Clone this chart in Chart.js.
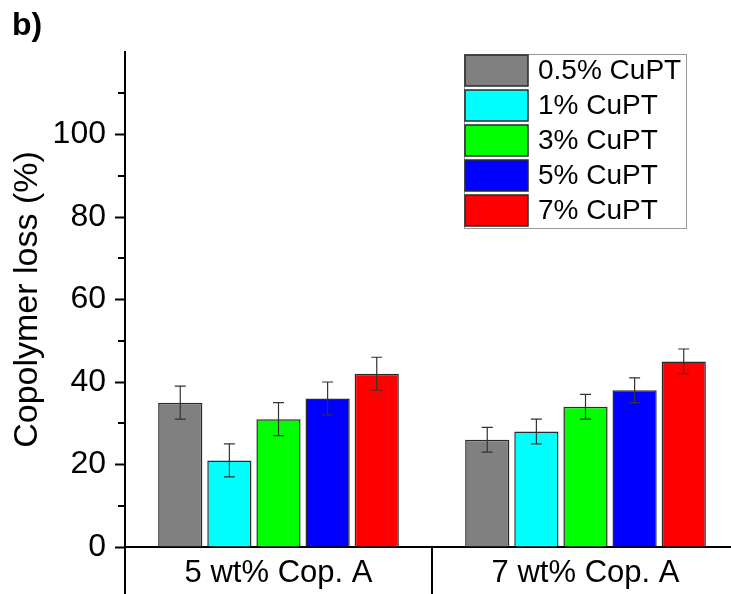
<!DOCTYPE html>
<html>
<head>
<meta charset="utf-8">
<script src="https://cdn.jsdelivr.net/npm/chart.js@4"></script>
<style>
  html, body { margin: 0; padding: 0; background: #fff; overflow: hidden; }
  #wrap { width: 731px; height: 594px; overflow: hidden; position: relative; }
  canvas { display: block; }
</style>
</head>
<body>
<div id="wrap"><canvas id="c" width="740" height="594"></canvas></div>
<script>
// ---- data ----
const categories = ['5 wt% Cop. A', '7 wt% Cop. A'];
const seriesLabels = ['0.5% CuPT', '1% CuPT', '3% CuPT', '5% CuPT', '7% CuPT'];
const cupt05 = [35, 26];
const cupt1  = [21, 28];
const cupt3  = [31, 34];
const cupt5  = [36, 38];
const cupt7  = [42, 45];
const err05 = [4, 3];
const err1  = [4, 3];
const err3  = [4, 3];
const err5  = [4, 3];
const err7  = [4, 3];
const yMin = 0, yMax = 120, yMajorStep = 20, yMinorStep = 10;
const yTitle = 'Copolymer loss (%)';
const panelLabel = 'b)';

const colors = ['#808080', '#00ffff', '#00ff00', '#0000ff', '#ff0000'];
const values = [cupt05, cupt1, cupt3, cupt5, cupt7];
const errors = [err05, err1, err3, err5, err7];
const FONT = "'Liberation Sans', Arial, sans-serif";

const datasets = seriesLabels.map((lab, i) => ({
  label: lab,
  data: values[i],
  errors: errors[i],
  backgroundColor: colors[i],
  borderColor: '#2a2a2a',
  borderWidth: 1.5,
  categoryPercentage: 0.8,
  barPercentage: 0.9
}));

const extrasPlugin = {
  id: 'extras',
  afterDatasetsDraw(chart) {
    const ctx = chart.ctx;
    const ys = chart.scales.y;
    ctx.save();
    ctx.strokeStyle = '#333';
    ctx.lineWidth = 1.2;
    chart.data.datasets.forEach((ds, di) => {
      const meta = chart.getDatasetMeta(di);
      meta.data.forEach((el, j) => {
        const v = ds.data[j], e = ds.errors[j];
        const x = el.x;
        const yt = ys.getPixelForValue(v + e);
        const yb = ys.getPixelForValue(v - e);
        ctx.beginPath();
        ctx.moveTo(x, yt); ctx.lineTo(x, yb);
        ctx.moveTo(x - 5.5, yt); ctx.lineTo(x + 5.5, yt);
        ctx.moveTo(x - 5.5, yb); ctx.lineTo(x + 5.5, yb);
        ctx.stroke();
      });
    });
    ctx.restore();
  },
  afterDraw(chart) {
    const ctx = chart.ctx;
    const ca = chart.chartArea;
    const ys = chart.scales.y, xs = chart.scales.x;
    ctx.save();
    // minor ticks
    ctx.strokeStyle = '#000';
    ctx.lineWidth = 2;
    for (let v = yMin + yMinorStep; v < yMax; v += yMajorStep) {
      const y = Math.round(ys.getPixelForValue(v));
      ctx.beginPath();
      ctx.moveTo(ca.left - 7, y); ctx.lineTo(ca.left, y);
      ctx.stroke();
    }
    // y axis continuing through the category row, and group separator
    ctx.beginPath();
    ctx.moveTo(ca.left, ca.bottom); ctx.lineTo(ca.left, chart.height);
    const sep = (xs.getPixelForValue(0) + xs.getPixelForValue(1)) / 2;
    ctx.moveTo(sep, ca.bottom); ctx.lineTo(sep, chart.height);
    ctx.stroke();
    // panel label
    ctx.fillStyle = '#000';
    ctx.font = 'bold 32px ' + FONT;
    ctx.textBaseline = 'alphabetic';
    ctx.textAlign = 'left';
    ctx.fillText(panelLabel, 12, 35);
    // legend
    const lx = 464, ly = 54, lw = 222, lh = 174;
    ctx.fillStyle = '#fff';
    ctx.fillRect(lx, ly, lw, lh);
    ctx.strokeStyle = '#9a9a9a';
    ctx.lineWidth = 1;
    ctx.strokeRect(lx + 0.5, ly + 0.5, lw, lh);
    ctx.font = '28px ' + FONT;
    ctx.textBaseline = 'middle';
    chart.data.datasets.forEach((ds, i) => {
      const sy = ly + 1 + i * 35;
      ctx.fillStyle = ds.backgroundColor;
      ctx.fillRect(lx + 1, sy, 63, 31);
      ctx.strokeStyle = '#2a2a2a';
      ctx.lineWidth = 1.5;
      ctx.strokeRect(lx + 1, sy, 63, 31);
      ctx.fillStyle = '#000';
      ctx.fillText(ds.label, lx + 74, sy + 16.5);
    });
    ctx.restore();
  }
};

new Chart(document.getElementById('c'), {
  type: 'bar',
  data: { labels: categories, datasets },
  options: {
    responsive: false,
    animation: false,
    devicePixelRatio: 1,
    layout: { padding: { top: 52, right: 1, left: 0, bottom: 0 } },
    plugins: { legend: { display: false }, tooltip: { enabled: false } },
    scales: {
      x: {
        grid: { display: false, drawTicks: false },
        border: { display: true, color: '#000', width: 2 },
        ticks: { color: '#000', font: { family: FONT, size: 31 }, padding: 8, maxRotation: 0 },
        afterFit(scale) { scale.height = 47; }
      },
      y: {
        min: yMin, max: yMax,
        grid: {
          drawOnChartArea: false,
          drawTicks: true,
          tickLength: 10,
          tickWidth: 2,
          tickColor: (ctx) => (ctx.tick && ctx.tick.value >= yMax) ? 'rgba(0,0,0,0)' : '#000'
        },
        border: { display: true, color: '#000', width: 2 },
        ticks: {
          stepSize: yMajorStep,
          color: '#000',
          font: { family: FONT, size: 32 },
          padding: 9,
          callback: (v) => v >= yMax ? '' : v
        },
        title: {
          display: true,
          text: yTitle,
          color: '#000',
          font: { family: FONT, size: 34 },
          padding: { top: 7, bottom: 0 }
        },
        afterFit(scale) { scale.width = 125; }
      }
    }
  },
  plugins: [extrasPlugin]
});
</script>
</body>
</html>
